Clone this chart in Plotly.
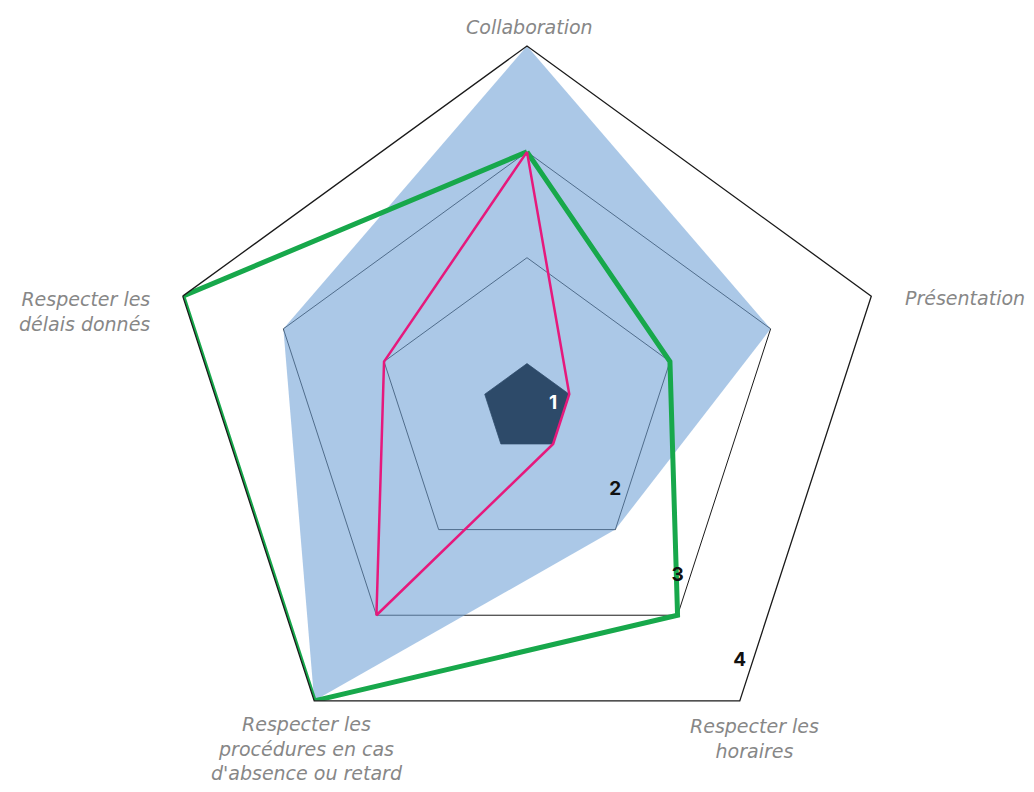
import plotly.graph_objects as go

# ---- data ----
categories = [
    "Collaboration",
    "Présentation",
    "Respecter les horaires",
    "Respecter les procédures en cas d'absence ou retard",
    "Respecter les délais donnés",
]
category_labels = [
    "Collaboration",
    "Présentation",
    "Respecter les<br>horaires",
    "Respecter les<br>procédures en cas<br>d'absence ou retard",
    "Respecter les<br>délais donnés",
]
blue_values = [4, 3, 2, 4, 3]
green_values = [3, 2, 3, 4, 4]
pink_values = [3, 1, 1, 3, 2]
base_values = [1, 1, 1, 1, 1]
tick_values = [1, 2, 3, 4]
tick_labels = ["1", "2", "3", "4"]


def closed(seq):
    seq = list(seq)
    return seq + seq[:1]


fig = go.Figure()

fig.add_trace(go.Scatterpolar(
    r=blue_values, theta=categories, mode="none", fill="toself",
    fillcolor="rgba(115,163,215,0.6)", hoverinfo="skip", name="Bleu"))

fig.add_trace(go.Scatterpolar(
    r=base_values, theta=categories, mode="none", fill="toself",
    fillcolor="#2d4a69", hoverinfo="skip", name="Base"))

fig.add_trace(go.Scatterpolar(
    r=closed(green_values), theta=closed(categories), mode="lines",
    line=dict(color="#17a84b", width=5), name="Vert"))

fig.add_trace(go.Scatterpolar(
    r=closed(pink_values), theta=closed(categories), mode="lines",
    line=dict(color="#e6197c", width=2.5), name="Rose"))

# scale numbers along the "horaires" axis
fig.add_trace(go.Scatterpolar(
    r=tick_values, theta=[categories[2]] * len(tick_values),
    mode="markers+text", text=tick_labels, textposition="top center",
    marker=dict(size=46, opacity=0),
    textfont=dict(family="Inter", size=19, weight="bold",
                  color=["#ffffff", "#111111", "#111111", "#111111"]),
    hoverinfo="skip", name="Échelle"))

# category label placement (fractions of the figure)
label_pos = [
    (0.51277, 0.97552, "center", "center"),
    (0.87917, 0.62629, "left", "left"),
    (0.73379, 0.05799, "center", "center"),
    (0.29371, 0.04639, "center", "center"),
    (0.14145, 0.60825, "right", "right"),
]
annotations = []
for text, (x, y, xa, al) in zip(category_labels, label_pos):
    annotations.append(dict(
        text=text, x=x, y=y, xref="paper", yref="paper",
        xanchor=xa, yanchor="middle", align=al, showarrow=False,
        font=dict(family="DejaVu Sans", size=19, color="#878787",
                  style="italic")))

fig.update_layout(
    width=1018, height=776,
    margin=dict(l=0, r=0, t=0, b=0),
    paper_bgcolor="white",
    showlegend=False,
    annotations=annotations,
    polar=dict(
        domain=dict(x=[0.15422, 0.86542], y=[0.018041, 0.95103]),
        bgcolor="white",
        gridshape="linear",
        radialaxis=dict(range=[0.58, 4], tickvals=tick_values,
                        showticklabels=False, ticks="", showline=False,
                        gridcolor="#1a1a1a", gridwidth=1.2, angle=-54),
        angularaxis=dict(rotation=90, direction="clockwise", showgrid=False,
                         showticklabels=False, ticks="",
                         linecolor="#1a1a1a", linewidth=1.3),
    ),
)

fig.write_html("out.html")
